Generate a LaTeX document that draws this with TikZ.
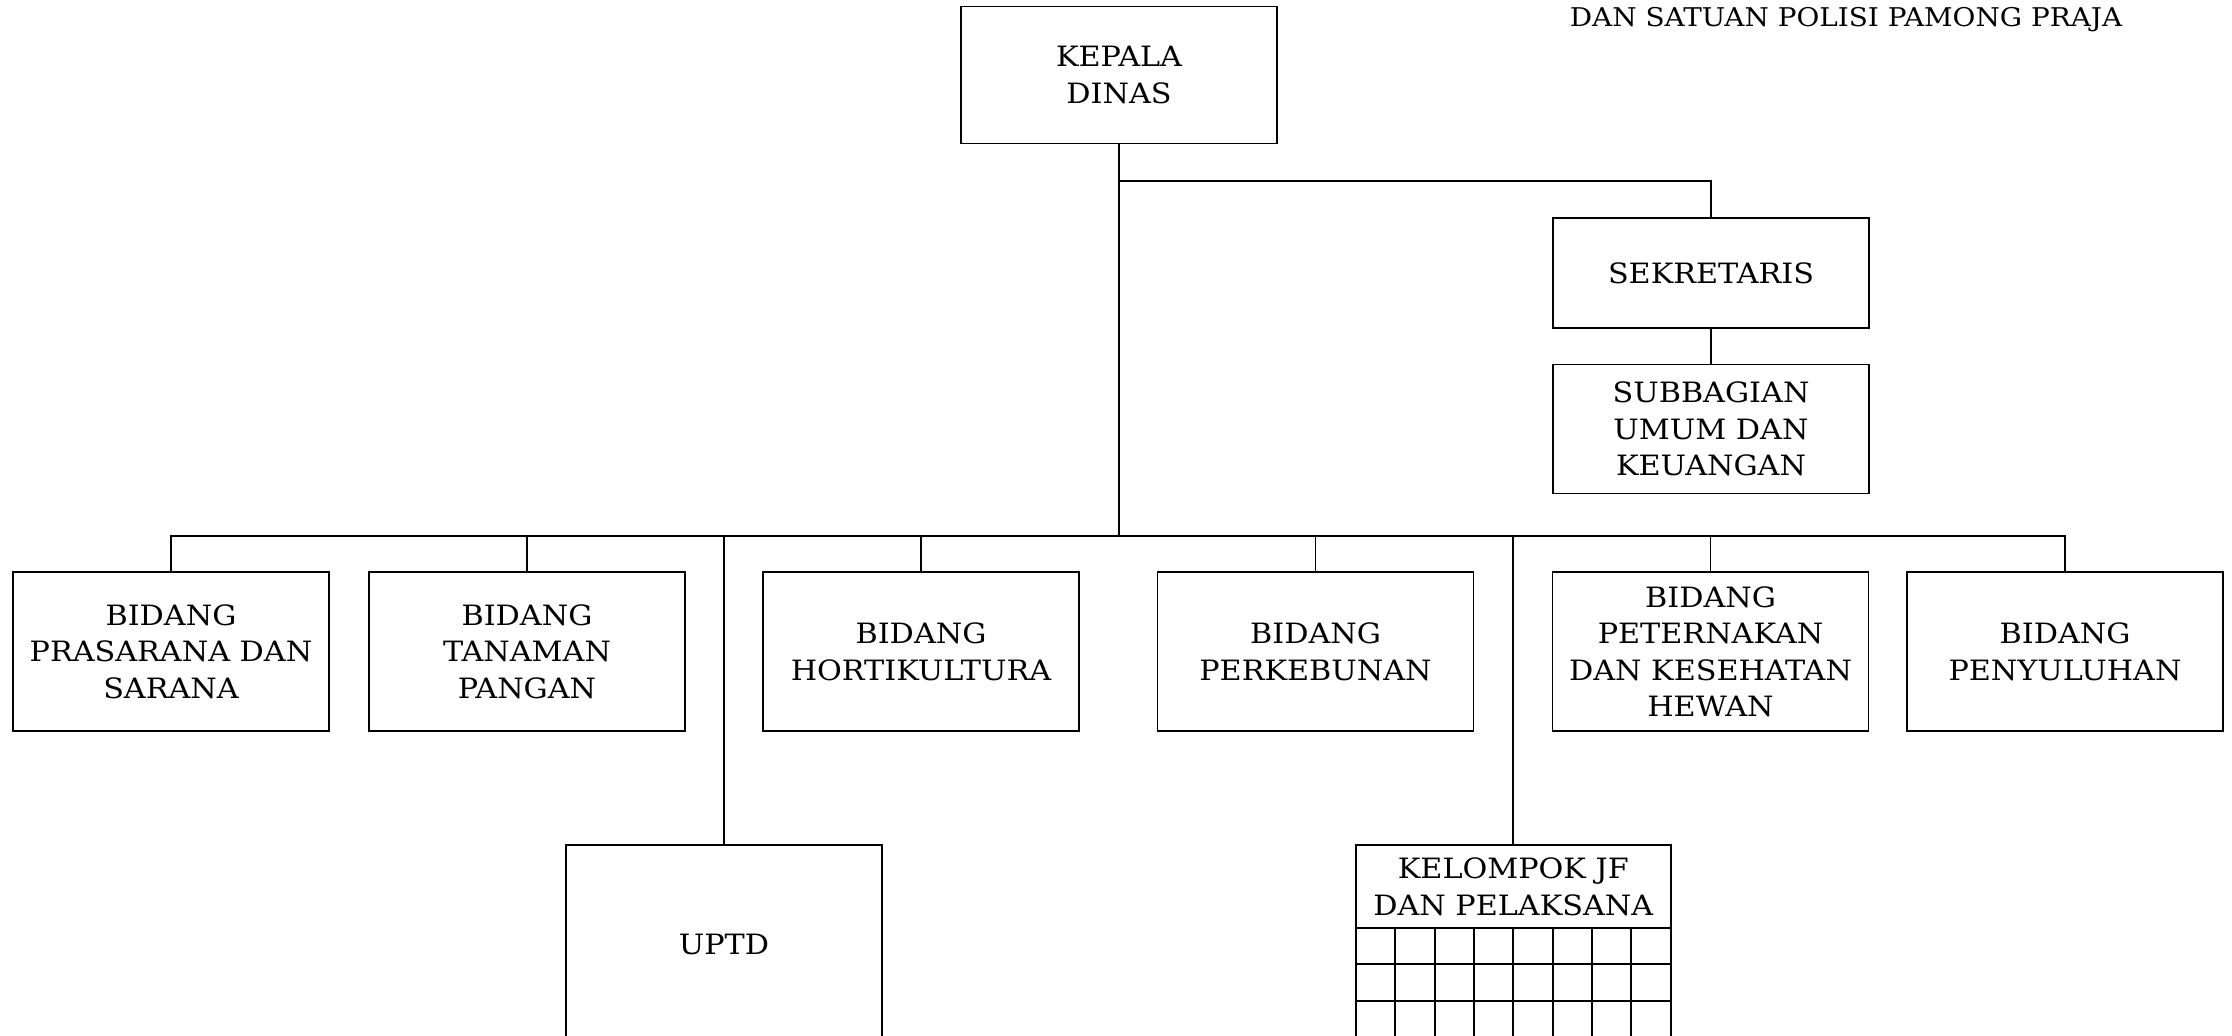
\documentclass[tikz,border=0pt]{standalone}
\usepackage{fontspec}
\setmainfont{DejaVu Serif}[FakeStretch=1.08]
\begin{document}
\begin{tikzpicture}[x=0.5pt,y=-0.5pt,
  every node/.style={font=\fontsize{14}{18.3}\selectfont},
  box/.style={draw,line width=0.9pt,align=center,minimum width=158pt,inner sep=0pt},
  ln/.style={line width=0.9pt}]
\clip (0,0) rectangle (2232,1035);
\fill[white] (0,0) rectangle (2232,1035);
\node[anchor=base,inner sep=0pt,font=\fontsize{12.9}{15}\selectfont] (title) at (1846,26.7) {DAN SATUAN POLISI PAMONG PRAJA};
\node[box,minimum height=68.5pt] (kepala) at (1119,75) {KEPALA\\DINAS};
\node[box,minimum height=55pt] (sek) at (1711,273) {SEKRETARIS};
\node[box,minimum height=64.5pt] (sub) at (1711,429) {SUBBAGIAN\\UMUM DAN\\KEUANGAN};
\node[box,minimum height=79.5pt] (b1) at (171,651.7) {BIDANG\\PRASARANA DAN\\SARANA};
\node[box,minimum height=79.5pt] (b2) at (527,651.7) {BIDANG\\TANAMAN\\PANGAN};
\node[box,minimum height=79.5pt] (b3) at (921,651.7) {BIDANG\\HORTIKULTURA};
\node[box,minimum height=79.5pt] (b4) at (1315.5,651.7) {BIDANG\\PERKEBUNAN};
\node[box,minimum height=79.5pt] (b5) at (1710.5,651.7) {BIDANG\\PETERNAKAN\\DAN KESEHATAN\\HEWAN};
\node[box,minimum height=79.5pt] (b6) at (2065,651.7) {BIDANG\\PENYULUHAN};
\node[box,minimum height=99pt,anchor=north] (uptd) at (724,844.3) {UPTD};
\node[box,minimum width=157.3pt,minimum height=41.3pt,anchor=north] (kel) at (1513.3,844.3) {KELOMPOK JF\\DAN PELAKSANA};
\coordinate (bus) at (1119,535.7);
\coordinate (split) at (1119,181);
\draw[ln] (kepala.south) -- (bus);
\draw[ln] (split) -| (sek.north);
\draw[ln] (sek.south) -- (sub.north);
\draw[ln] (b1.north) |- (bus) -| (b6.north);
\foreach \n in {b2,b3,b4,b5,uptd,kel} \draw[ln] (\n.north) -- (\n.north |- bus);
\foreach \i in {0,...,8} \draw[ln] ({1356+\i*39.33},926.9) -- ({1356+\i*39.33},1060);
\foreach \yy in {964.3,1001,1038} \draw[ln] (1356,\yy) -- (1670.6,\yy);
\end{tikzpicture}
\end{document}
